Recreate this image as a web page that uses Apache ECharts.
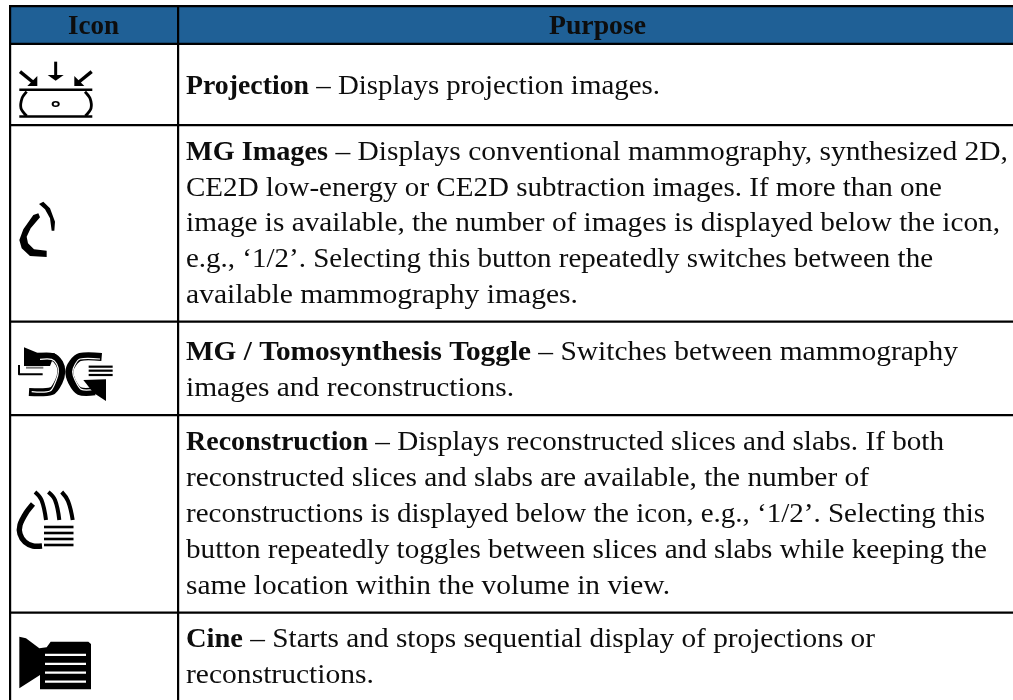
<!DOCTYPE html>
<html><head><meta charset="utf-8">
<style>html,body{margin:0;padding:0;background:#fff}#c{width:1013px;height:700px}</style>
<script src="https://cdn.jsdelivr.net/npm/echarts@6/dist/echarts.min.js"></script>
</head><body><div id="c"></div>
<script>
// ---- content ----
const headers = ['Icon', 'Purpose'];
const rowTitles = ['Projection', 'MG Images', 'MG / Tomosynthesis Toggle', 'Reconstruction', 'Cine'];
const rowLines = [
  [' – Displays projection images.'],
  [' – Displays conventional mammography, synthesized 2D,',
   'CE2D low-energy or CE2D subtraction images. If more than one',
   'image is available, the number of images is displayed below the icon,',
   'e.g., ‘1/2’. Selecting this button repeatedly switches between the',
   'available mammography images.'],
  [' – Switches between mammography',
   'images and reconstructions.'],
  [' – Displays reconstructed slices and slabs. If both',
   'reconstructed slices and slabs are available, the number of',
   'reconstructions is displayed below the icon, e.g., ‘1/2’. Selecting this',
   'button repeatedly toggles between slices and slabs while keeping the',
   'same location within the volume in view.'],
  [' – Starts and stops sequential display of projections or',
   'reconstructions.']
];
// ---- layout ----
const titleEnds = [309, 328, 531, 368, 243];
const lineEnds = [[660],[1008,942,1000,933,578],[958,514],[944,869,985,987,670],[875,374]];
const baselines = [[96],[162,198,233.5,269,305],[362,398],[452,488,524,560,596],[649,685]];
const hLines = [6, 43.7, 125, 321.5, 415, 612.5];
const vLines = [10, 178];
const textX = 186, fontSize = 27, baseAdj = 0.34;
const fontFam = '"Liberation Serif"';
const ink = '#0d0d0d';

const mctx = document.createElement('canvas').getContext('2d');
function measure(t, bold){ mctx.font = (bold?'bold ':'') + fontSize + 'px ' + fontFam; return mctx.measureText(t).width; }
const els = [];
function txt(t, x, base, end, bold){
  const w = measure(t, bold);
  els.push({type:'text', x, y: base - fontSize*baseAdj, scaleX:(end-x)/w, silent:true,
    style:{text:t, fill:ink, font:(bold?'bold ':'')+fontSize+'px '+fontFam, align:'left', verticalAlign:'middle'}});
}
function rect(x,y,w,h,fill){ els.push({type:'rect', silent:true, shape:{x,y,width:w,height:h}, style:{fill}}); }
function mp(pts,ox,oy){ return pts.map(p=>[ox+p[0]/3, oy+p[1]/3]); }
function fillPoly(pts,ox,oy,fill){ els.push({type:'polygon', silent:true, shape:{points:mp(pts,ox,oy)}, style:{fill:fill||'#000'}}); }
function stroke(pts,ox,oy,w,color,smooth){ els.push({type:'polyline', silent:true, shape:{points:mp(pts,ox,oy),smooth:smooth||0}, style:{stroke:color||'#000', lineWidth:w, fill:'none', lineJoin:'round'}}); }

// table
rect(10,6,1003,38,'#1f6096');
hLines.forEach(y=>rect(9,y-1,1004,2.2,'#000'));
vLines.forEach(x=>rect(x-1,5,2.2,695,'#000'));
// header
txt(headers[0], 68, 36, 119, true);
txt(headers[1], 549, 36, 646, true);
// rows
rowLines.forEach((lines,r)=>{
  lines.forEach((l,i)=>{
    const base = baselines[r][i];
    if(i===0){
      txt(rowTitles[r], textX, base, titleEnds[r], true);
      txt(l, titleEnds[r], base, lineEnds[r][i], false);
    } else txt(l, textX, base, lineEnds[r][i], false);
  });
});

// icon 1: projection
(function(){
  stroke([[167,185],[167,228]],0,0,3);
  fillPoly([[143,225],[191,225],[167,242]],0,0);
  stroke([[60,215],[102,249]],0,0,3.4);
  fillPoly([[112,258],[112,228],[82,258]],0,0);
  stroke([[275,215],[233,249]],0,0,3.4);
  fillPoly([[223,258],[223,228],[253,258]],0,0);
  rect(19.3,88.5,73,2.6,'#000');
  rect(19.3,115.2,73,2.6,'#000');
  stroke([[80,275],[66,295],[63,325],[80,348]],0,0,2.8,'#000',0.3);
  stroke([[255,275],[270,295],[273,325],[256,348]],0,0,2.8,'#000',0.3);
  els.push({type:'circle',silent:true,scaleX:1.4,originX:55.7,originY:104,shape:{cx:55.7,cy:104,r:2.2},style:{fill:'#fff',stroke:'#000',lineWidth:1.4}});
})();

// icon 2: MG drop
(function(){
  const oy=130;
  fillPoly([[115,250],[100,255],[70,298],[58,330],[65,355],[90,378],[140,381],[140,362],[102,358],[84,340],[80,320],[92,295],[120,262]],0,oy);
  fillPoly([[117,222],[130,215],[150,235],[165,275],[163,302],[155,302],[150,265],[135,238]],0,oy);
})();

// icon 3: toggle
(function(){
  const oy=320;
  stroke([[57,135],[57,163],[128,163]],0,oy,2);
  stroke([[78,143],[130,143]],0,oy,2,'#777');
  fillPoly([[72,82],[112,98],[165,100],[150,138],[72,138]],0,oy);
  // left ")" band
  stroke([[110,111],[158,111],[178,130],[184,155],[176,185],[155,213],[87,216]],0,oy,8,'#000',0.3);
  stroke([[120,118],[155,118],[170,132],[175,155],[168,182],[150,213],[95,215]],0,oy,1.2,'#fff',0.3);
  // right "(" band
  stroke([[305,111],[240,111],[218,130],[208,155],[216,185],[238,213],[285,214]],0,oy,8,'#000',0.3);
  stroke([[300,117],[240,117],[226,132],[218,155],[226,182],[244,208],[285,208]],0,oy,1.2,'#fff',0.3);
  // bottom right head
  fillPoly([[318,243],[280,218],[250,180],[318,178]],0,oy);
  [140,152,165].forEach(y=>stroke([[266,y],[338,y]],0,oy,2.2));
})();

// icon 4: reconstruction
(function(){
  stroke([[33,504],[26,513],[20,525],[20,534],[25,542],[33,546],[42,546]].map(p=>[p[0]*3,p[1]*3]),0,0,5.4,'#000',0.3);
  [[35,492,41.5,500,46,520],[48.3,492,55,500,59.3,520],[61.7,492,68,501,72.7,520]].forEach(a=>{
    stroke([[a[0]*3,a[1]*3],[a[2]*3,a[3]*3],[a[4]*3,a[5]*3]],0,0,4,'#000',0.4);
  });
  [527,533,539,545].forEach(y=>rect(44,y-1.3,29.5,2.6,'#000'));
})();

// icon 5: cine
(function(){
  const oy=520;
  fillPoly([[58,350],[78,355],[118,385],[140,382],[152,365],[265,365],[273,372],[273,508],[120,508],[120,465],[58,505]],0,oy);
  [405,432,458,485].forEach(y=>rect(45,oy+y/3-1.2,41,2.2,'#fff'));
})();

const chart = echarts.init(document.getElementById('c'), null, {renderer:'canvas'});
chart.setOption({animation:false, backgroundColor:'#fff', graphic:{elements:els}});
</script></body></html>
